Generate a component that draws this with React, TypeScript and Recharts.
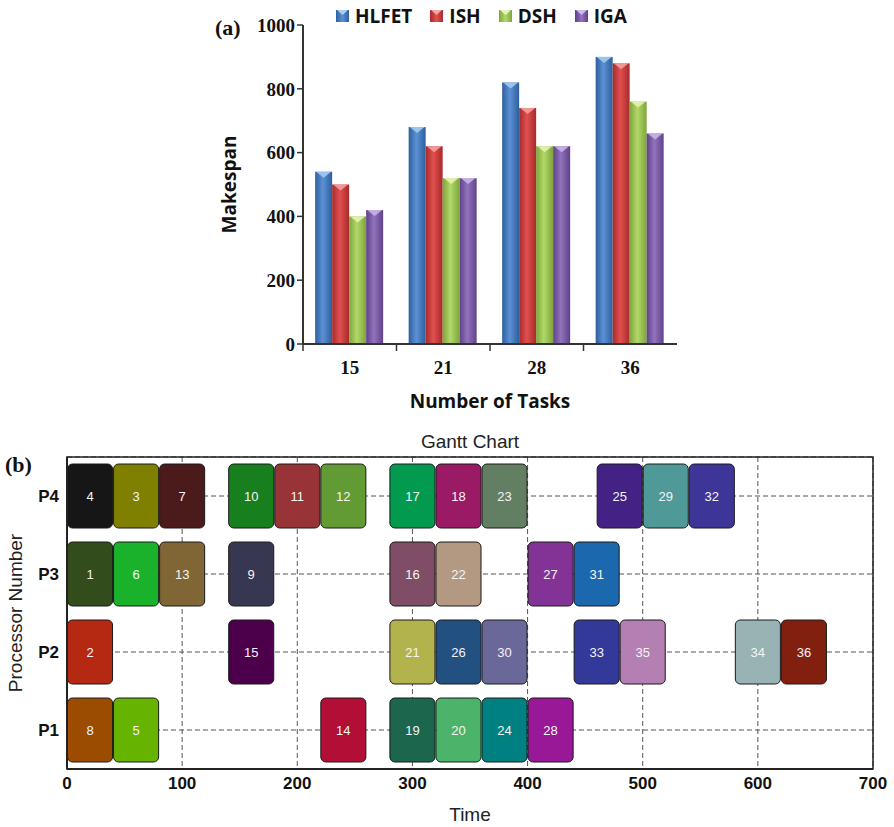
import { Bar, BarChart, CartesianGrid, Legend, ReferenceArea, XAxis, YAxis } from "recharts";

// --- (a) makespan data ---
const taskCounts = ["15", "21", "28", "36"];
const hlfet = [540, 680, 820, 900];
const ish = [500, 620, 740, 880];
const dsh = [400, 520, 620, 760];
const iga = [420, 520, 620, 660];
const makespanTicks = [0, 200, 400, 600, 800, 1000];
const seriesNames = ["HLFET", "ISH", "DSH", "IGA"];
// [edge, centre, cap]
const seriesColors = [
  ["#2e5f9e", "#5b91d4", "#a9cdf4"],
  ["#a82a2a", "#e0504f", "#f4a5a3"],
  ["#7ea53a", "#b2d86a", "#e6f5b5"],
  ["#5f4289", "#9273bd", "#cdb9ea"],
];

// --- (b) gantt data ---
const processors = ["P4", "P3", "P2", "P1"];
const taskIds = [
  [4, 3, 7, 10, 11, 12, 17, 18, 23, 25, 29, 32],
  [1, 6, 13, 9, 16, 22, 27, 31],
  [2, 15, 21, 26, 30, 33, 35, 34, 36],
  [8, 5, 14, 19, 20, 24, 28],
];
const taskStarts = [
  [0, 40, 80, 140, 180, 220, 280, 320, 360, 460, 500, 540],
  [0, 40, 80, 140, 280, 320, 400, 440],
  [0, 140, 280, 320, 360, 440, 480, 580, 620],
  [0, 40, 220, 280, 320, 360, 400],
];
const taskLength = 40;
const timeTicks = [0, 100, 200, 300, 400, 500, 600, 700];
const taskColors: Record<number, string> = {
  1: "#334c1c", 2: "#b52912", 3: "#7f7f00", 4: "#161616", 5: "#66b300", 6: "#19b22a",
  7: "#4b1a1a", 8: "#9c4c00", 9: "#373752", 10: "#187f1f", 11: "#983437", 12: "#629a33",
  13: "#806634", 14: "#b30f36", 15: "#4c004c", 16: "#7f4d66", 17: "#019a4f", 18: "#9a1a65",
  19: "#1b664c", 20: "#4cb36b", 21: "#b3b34e", 22: "#b39981", 23: "#637f63", 24: "#008080",
  25: "#432185", 26: "#225080", 27: "#833296", 28: "#981898", 29: "#4f9a98", 30: "#6a6899",
  31: "#1b68ae", 32: "#3e3599", 33: "#333999", 34: "#99b3b4", 35: "#b47fb3", 36: "#822010",
};

const makespanRows = taskCounts.map((t, i) => ({
  tasks: t,
  HLFET: hlfet[i],
  ISH: ish[i],
  DSH: dsh[i],
  IGA: iga[i],
}));

// build stacked segments (gap / task) per processor
const ganttRows: any[] = [];
let segCount = 0;
processors.forEach((p, r) => {
  const row: any = { proc: p };
  let cursor = 0;
  let k = 0;
  taskIds[r].forEach((id, j) => {
    const start = taskStarts[r][j];
    if (start > cursor) {
      row[`s${k}`] = start - cursor;
      row[`id${k}`] = null;
      k++;
    }
    row[`s${k}`] = taskLength;
    row[`id${k}`] = id;
    k++;
    cursor = start + taskLength;
  });
  segCount = Math.max(segCount, k);
  ganttRows.push(row);
});
const segKeys = Array.from({ length: segCount }, (_, i) => i);

const serif = '"Liberation Serif", "Times New Roman", serif';
const sans = '"Liberation Sans", Arial, sans-serif';
const bodySans = '"Open Sans", sans-serif';

const CylBar = (props: any) => {
  const { x, y, width, height, si } = props;
  if (!height || height <= 0) return null;
  return (
    <g>
      <rect x={x} y={y} width={width} height={height} fill={`url(#bg${si})`} />
      <polygon
        points={`${x + 1},${y} ${x + width - 1},${y} ${x + width / 2},${y + 6}`}
        fill={seriesColors[si][2]}
        opacity={0.85}
      />
    </g>
  );
};

const TICK_GAP = 15;
// category tick label plus a tick mark on the category boundary (Excel style)
const CategoryTick = (props: any) => {
  const { x, y, payload } = props;
  const half = payload && payload.offset ? payload.offset : 0;
  const axisY = y - TICK_GAP;
  return (
    <g>
      {half > 0 && (
        <line x1={x - half} x2={x - half} y1={axisY} y2={axisY + 7} stroke="#333" strokeWidth={1.5} />
      )}
      <text
        x={x}
        y={y}
        dy="0.78em"
        textAnchor="middle"
        fontFamily={serif}
        fontWeight={700}
        fontSize={19}
        fill="#111"
      >
        {payload.value}
      </text>
    </g>
  );
};

const renderLegend = () => (
  <div
    style={{
      display: "flex",
      alignItems: "center",
      fontFamily: bodySans,
      fontWeight: 700,
      fontSize: 19,
      color: "#111",
      whiteSpace: "nowrap",
    }}
  >
    {seriesNames.map((n, i) => (
      <div key={n} style={{ display: "flex", alignItems: "center", marginRight: 18 }}>
        <svg width={13} height={12}>
          <defs>
            <linearGradient id={`lg${i}`} x1="0" y1="0" x2="1" y2="0">
              <stop offset="0%" stopColor={seriesColors[i][0]} />
              <stop offset="50%" stopColor={seriesColors[i][1]} />
              <stop offset="100%" stopColor={seriesColors[i][0]} />
            </linearGradient>
          </defs>
          <rect x={0} y={0} width={13} height={12} fill={`url(#lg${i})`} />
          <polygon points="1,0 12,0 6.5,5" fill={seriesColors[i][2]} />
        </svg>
        <span style={{ marginLeft: 6 }}>{n}</span>
      </div>
    ))}
  </div>
);

const TaskBox = (props: any) => {
  const { x, y, width, height, payload, seg } = props;
  const id = payload ? payload[`id${seg}`] : null;
  if (id == null || !width || width <= 0) return null;
  return (
    <g>
      <rect
        x={x + 0.5}
        y={y}
        width={width - 1}
        height={height}
        rx={5}
        ry={5}
        fill={taskColors[id]}
        stroke="#1a1a1a"
        strokeWidth={1}
      />
      <text
        x={x + width / 2}
        y={y + height / 2}
        textAnchor="middle"
        dominantBaseline="central"
        fill="#f4f4f4"
        fontSize={13}
        fontFamily={sans}
      >
        {id}
      </text>
    </g>
  );
};

export default function App() {
  return (
    <div style={{ position: "absolute", left: 0, top: 0, width: 894, height: 827, background: "#fff" }}>
      <div
        style={{
          position: "absolute",
          left: 215,
          top: 15,
          fontFamily: serif,
          fontWeight: 700,
          fontSize: 22,
          color: "#111",
        }}
      >
        (a)
      </div>
      <div style={{ position: "absolute", left: 0, top: 0 }}>
        <BarChart
          width={894}
          height={420}
          data={makespanRows}
          margin={{ top: 25, right: 217, left: 223, bottom: 6 }}
          barGap={0}
          barCategoryGap="13%"
        >
          <defs>
            {seriesColors.map((c, i) => (
              <linearGradient key={i} id={`bg${i}`} x1="0" y1="0" x2="1" y2="0">
                <stop offset="0%" stopColor={c[0]} />
                <stop offset="45%" stopColor={c[1]} />
                <stop offset="100%" stopColor={c[0]} />
              </linearGradient>
            ))}
          </defs>
          <XAxis
            dataKey="tasks"
            height={70}
            tickLine={false}
            tickSize={0}
            tickMargin={TICK_GAP}
            axisLine={{ stroke: "#333", strokeWidth: 2 }}
            tick={<CategoryTick />}
            label={{
              value: "Number of Tasks",
              position: "insideBottom",
              offset: 6,
              style: { fontFamily: bodySans, fontWeight: 700, fontSize: 19, fill: "#111" },
            }}
          />
          <YAxis
            width={80}
            domain={[0, 1000]}
            ticks={makespanTicks}
            tickSize={6}
            tickLine={{ stroke: "#333", strokeWidth: 1.5 }}
            axisLine={{ stroke: "#333", strokeWidth: 2 }}
            tick={{ fontFamily: serif, fontWeight: 700, fontSize: 19, fill: "#111" }}
            label={{
              value: "Makespan",
              angle: -90,
              position: "insideLeft",
              offset: 6,
              style: { textAnchor: "middle", fontFamily: bodySans, fontWeight: 700, fontSize: 19, fill: "#111" },
            }}
          />
          <Legend
            layout="horizontal"
            verticalAlign="middle"
            align="center"
            content={renderLegend}
            wrapperStyle={{ top: 3, left: 336, width: 340 }}
          />
          {seriesNames.map((n, i) => (
            <Bar
              key={n}
              dataKey={n}
              fill={seriesColors[i][1]}
              isAnimationActive={false}
              shape={(p: any) => <CylBar {...p} si={i} />}
            />
          ))}
        </BarChart>
      </div>

      <div
        style={{
          position: "absolute",
          left: 5,
          top: 452,
          fontFamily: serif,
          fontWeight: 700,
          fontSize: 22,
          color: "#111",
        }}
      >
        (b)
      </div>
      <div
        style={{
          position: "absolute",
          left: 67,
          width: 806,
          top: 431,
          textAlign: "center",
          fontFamily: sans,
          fontSize: 19,
          color: "#222",
        }}
      >
        Gantt Chart
      </div>
      <div style={{ position: "absolute", left: 0, top: 420 }}>
        <BarChart
          width={894}
          height={407}
          layout="vertical"
          data={ganttRows}
          margin={{ top: 37, right: 21, left: 0, bottom: 3 }}
          barSize={64}
        >
          <CartesianGrid stroke="#555" strokeDasharray="5 3" />
          <XAxis
            type="number"
            domain={[0, 700]}
            ticks={timeTicks}
            allowDataOverflow
            height={55}
            tickLine={false}
            axisLine={{ stroke: "#222", strokeWidth: 2 }}
            tick={{ fontFamily: sans, fontWeight: 700, fontSize: 17, fill: "#111" }}
            label={{
              value: "Time",
              position: "insideBottom",
              offset: 3,
              style: { fontFamily: sans, fontSize: 19, fill: "#222" },
            }}
          />
          <YAxis
            type="category"
            dataKey="proc"
            width={67}
            tickLine={false}
            axisLine={{ stroke: "#222", strokeWidth: 2 }}
            tick={{ fontFamily: sans, fontWeight: 700, fontSize: 17, fill: "#111" }}
            label={{
              value: "Processor Number",
              angle: -90,
              position: "insideLeft",
              offset: 15,
              style: { textAnchor: "middle", fontFamily: sans, fontSize: 19, fill: "#222" },
            }}
          />
          <ReferenceArea x1={0} x2={700} fill="none" stroke="#222" strokeWidth={1.5} />
          {segKeys.map((k) => (
            <Bar
              key={k}
              dataKey={`s${k}`}
              stackId="g"
              fill="transparent"
              isAnimationActive={false}
              shape={(p: any) => <TaskBox {...p} seg={k} />}
            />
          ))}
        </BarChart>
      </div>
    </div>
  );
}
